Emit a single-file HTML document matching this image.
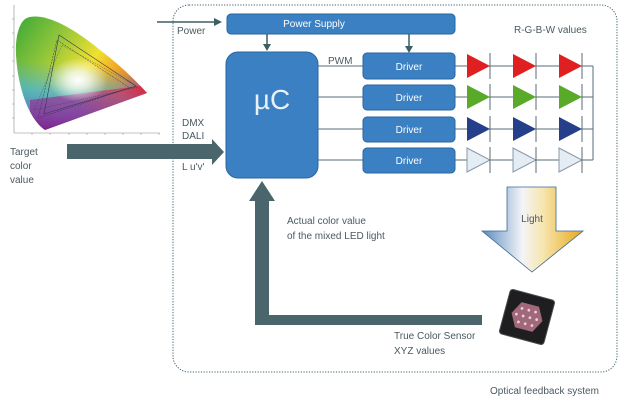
<!DOCTYPE html>
<html><head><meta charset="utf-8"><style>
body{margin:0;background:#fff;}
svg text{font-family:"Liberation Sans",sans-serif;}
</style></head><body>
<svg width="632" height="400" viewBox="0 0 632 400" xmlns="http://www.w3.org/2000/svg">
<defs>
<linearGradient id="cg1" x1="0" y1="0" x2="1" y2="0.6">
<stop offset="0" stop-color="#3aa838"/><stop offset="0.3" stop-color="#8cc43a"/><stop offset="0.6" stop-color="#f0e030"/><stop offset="0.85" stop-color="#f08a20"/><stop offset="1" stop-color="#e8202a"/>
</linearGradient>
<linearGradient id="cg2" x1="0.2" y1="0" x2="0.1" y2="1">
<stop offset="0.4" stop-color="#40b0e0" stop-opacity="0"/><stop offset="0.65" stop-color="#40b0e0" stop-opacity="0.75"/><stop offset="0.85" stop-color="#4a70c8" stop-opacity="0.9"/><stop offset="1" stop-color="#40208a"/>
</linearGradient>
<radialGradient id="cg3" cx="0.5" cy="0.5" r="0.5">
<stop offset="0" stop-color="#fff"/><stop offset="0.4" stop-color="#fff" stop-opacity="0.7"/><stop offset="1" stop-color="#fff" stop-opacity="0"/>
</radialGradient>
<linearGradient id="cg4" x1="0.3" y1="1" x2="1" y2="0.5">
<stop offset="0.3" stop-color="#a02090" stop-opacity="0.6"/><stop offset="0.7" stop-color="#e02050" stop-opacity="0.6"/><stop offset="1" stop-color="#e8202a" stop-opacity="0.9"/>
</linearGradient>
<clipPath id="lowclip"><polygon points="30,100 147,85 160,140 30,140"/></clipPath>
<linearGradient id="lg" x1="0" y1="0" x2="1" y2="0">
<stop offset="0" stop-color="#5a8cc0"/><stop offset="0.4" stop-color="#f4f4f8"/><stop offset="0.6" stop-color="#f6e6b0"/><stop offset="1" stop-color="#e8a818"/>
</linearGradient>
</defs>

<!-- CIE chart -->
<g>
<line x1="14" y1="5" x2="14" y2="133" stroke="#888" stroke-width="0.6"/>
<line x1="14" y1="133" x2="160" y2="133" stroke="#888" stroke-width="0.6"/>
<g stroke="#888" stroke-width="0.5">
<line x1="12" y1="19" x2="14" y2="19"/><line x1="12" y1="33" x2="14" y2="33"/><line x1="12" y1="47" x2="14" y2="47"/><line x1="12" y1="61" x2="14" y2="61"/><line x1="12" y1="76" x2="14" y2="76"/><line x1="12" y1="90" x2="14" y2="90"/><line x1="12" y1="104" x2="14" y2="104"/><line x1="12" y1="118" x2="14" y2="118"/>
<line x1="32" y1="133" x2="32" y2="135"/><line x1="50" y1="133" x2="50" y2="135"/><line x1="69" y1="133" x2="69" y2="135"/><line x1="87" y1="133" x2="87" y2="135"/><line x1="105" y1="133" x2="105" y2="135"/><line x1="123" y1="133" x2="123" y2="135"/><line x1="141" y1="133" x2="141" y2="135"/><line x1="159" y1="133" x2="159" y2="135"/>
</g>
<path d="M45,130 C30,120 18,90 16,55 C15,35 20,18 30,17 C45,14 70,25 100,50 C120,65 135,80 147,93 Z" fill="url(#cg1)"/>
<path d="M45,130 C30,120 18,90 16,55 C15,35 20,18 30,17 C45,14 70,25 100,50 C120,65 135,80 147,93 Z" fill="url(#cg2)"/>
<path d="M45,130 C30,120 18,90 16,55 C15,35 20,18 30,17 C45,14 70,25 100,50 C120,65 135,80 147,93 Z" fill="url(#cg4)" clip-path="url(#lowclip)"/>
<ellipse cx="78" cy="80" rx="30" ry="22" fill="url(#cg3)"/>
<polygon points="59,35 136,86 44,114" fill="none" stroke="#335" stroke-width="0.6"/>
<polygon points="57,40 130,88 38,118 " fill="none" stroke="#335" stroke-width="0.5" stroke-dasharray="2,1"/>
<polygon points="62,45 138,87 34,110" fill="none" stroke="#335" stroke-width="0.4" stroke-dasharray="1,1"/>
</g>

<!-- dotted border -->
<rect x="173" y="5" width="444" height="367" rx="16" fill="none" stroke="#3f6070" stroke-width="1" stroke-dasharray="1.2,1.5"/>

<!-- Power -->
<line x1="157" y1="22" x2="216" y2="22" stroke="#3c5e66" stroke-width="1.5"/>
<polygon points="214,18 222,22 214,26" fill="#3c5e66"/>
<text x="177" y="34" font-size="10" fill="#4a5a60">Power</text>
<rect x="227" y="14" width="228" height="20" rx="4" fill="#3b80c2" stroke="#2a66a0"/>
<text x="314" y="27" font-size="10" fill="#fff" text-anchor="middle">Power Supply</text>
<line x1="267" y1="34" x2="267" y2="46" stroke="#3c5e66" stroke-width="1.5"/>
<polygon points="263,44 267,51 271,44" fill="#3c5e66"/>
<line x1="409" y1="34" x2="409" y2="48" stroke="#3c5e66" stroke-width="1.5"/>
<polygon points="405,46 409,53 413,46" fill="#3c5e66"/>

<!-- uC -->
<rect x="226" y="52" width="92" height="126" rx="12" fill="#3b80c2" stroke="#2a66a0"/>
<text x="272" y="109" font-size="28" fill="#e8f0f8" text-anchor="middle">µC</text>

<text x="328" y="64" font-size="10" fill="#4a5a60">PWM</text>
<text x="514" y="33" font-size="10" fill="#4a5a60">R-G-B-W values</text>

<g stroke="#5a6e74" stroke-width="1">
<line x1="318" y1="66" x2="593" y2="66"/>
<line x1="318" y1="97" x2="593" y2="97"/>
<line x1="318" y1="129" x2="593" y2="129"/>
<line x1="318" y1="160" x2="593" y2="160"/>
<line x1="593" y1="66" x2="593" y2="160"/>
</g>
<g fill="#3b80c2" stroke="#2a66a0">
<rect x="363" y="53" width="92" height="26" rx="4"/>
<rect x="363" y="85" width="92" height="25" rx="4"/>
<rect x="363" y="117" width="92" height="25" rx="4"/>
<rect x="363" y="148" width="92" height="25" rx="4"/>
</g>
<g font-size="10" fill="#fff" text-anchor="middle">
<text x="409" y="70">Driver</text><text x="409" y="101">Driver</text><text x="409" y="133">Driver</text><text x="409" y="164">Driver</text>
</g>

<!-- LEDs -->
<g stroke="#5a6e74" stroke-width="1">
<polygon points="467,54 490,66 467,78" fill="#e02020" stroke="none"/>
<polygon points="513,54 536,66 513,78" fill="#e02020" stroke="none"/>
<polygon points="559,54 582,66 559,78" fill="#e02020" stroke="none"/>
<polygon points="467,85 490,97 467,109" fill="#5aaa2a" stroke="none"/>
<polygon points="513,85 536,97 513,109" fill="#5aaa2a" stroke="none"/>
<polygon points="559,85 582,97 559,109" fill="#5aaa2a" stroke="none"/>
<polygon points="467,117 490,129 467,141" fill="#263f8a" stroke="none"/>
<polygon points="513,117 536,129 513,141" fill="#263f8a" stroke="none"/>
<polygon points="559,117 582,129 559,141" fill="#263f8a" stroke="none"/>
<polygon points="467,148 490,160 467,172" fill="#e4ecf4" stroke="#8898a8"/>
<polygon points="513,148 536,160 513,172" fill="#e4ecf4" stroke="#8898a8"/>
<polygon points="559,148 582,160 559,172" fill="#e4ecf4" stroke="#8898a8"/>
<line x1="490" y1="53" x2="490" y2="79"/><line x1="536" y1="53" x2="536" y2="79"/><line x1="582" y1="53" x2="582" y2="79"/>
<line x1="490" y1="84" x2="490" y2="110"/><line x1="536" y1="84" x2="536" y2="110"/><line x1="582" y1="84" x2="582" y2="110"/>
<line x1="490" y1="116" x2="490" y2="142"/><line x1="536" y1="116" x2="536" y2="142"/><line x1="582" y1="116" x2="582" y2="142"/>
<line x1="490" y1="147" x2="490" y2="173"/><line x1="536" y1="147" x2="536" y2="173"/><line x1="582" y1="147" x2="582" y2="173"/>
</g>

<!-- big input arrow -->
<polygon points="67,144 212,144 212,139 224,152 212,165 212,159 67,159" fill="#4a666c"/>
<text x="182" y="126" font-size="10" fill="#4a5a60">DMX</text>
<text x="182" y="139" font-size="10" fill="#4a5a60">DALI</text>
<text x="182" y="170" font-size="10" fill="#4a5a60">L u'v'</text>
<g font-size="10" fill="#4a5a60">
<text x="10" y="155">Target</text><text x="10" y="169">color</text><text x="10" y="183">value</text>
</g>

<!-- feedback arrow -->
<polygon points="255,201 249,201 262,181 275,201 269,201 269,315 482,315 482,325 255,325" fill="#4a666c"/>
<text x="287" y="224" font-size="10" fill="#4a5a60">Actual color value</text>
<text x="287" y="239" font-size="10" fill="#4a5a60">of the mixed LED light</text>
<text x="394" y="339" font-size="10" fill="#4a5a60">True Color Sensor</text>
<text x="394" y="354" font-size="10" fill="#4a5a60">XYZ values</text>
<text x="490" y="394" font-size="10" fill="#4a5a60">Optical feedback system</text>

<!-- light arrow -->
<polygon points="507,187 556,187 556,231 583,231 532,272 482,231 507,231" fill="url(#lg)" stroke="#3a6a90" stroke-width="0.8"/>
<text x="532" y="222" font-size="10" fill="#4a5a60" text-anchor="middle">Light</text>

<!-- sensor -->
<g transform="rotate(15 527 317)">
<rect x="504" y="294" width="46" height="46" rx="3" fill="#1e1e20"/>
<rect x="504" y="294" width="46" height="46" rx="3" fill="none" stroke="#4a4a4a" stroke-width="1"/>
<polygon points="518,304 536,304 543,317 536,330 518,330 511,317" fill="#a06878"/>
<g fill="#e8d0e0">
<circle cx="520" cy="310" r="1.4"/><circle cx="527" cy="310" r="1.4"/><circle cx="534" cy="310" r="1.4"/>
<circle cx="516" cy="317" r="1.4"/><circle cx="523" cy="317" r="1.4"/><circle cx="530" cy="317" r="1.4"/><circle cx="537" cy="317" r="1.4"/>
<circle cx="520" cy="324" r="1.4"/><circle cx="527" cy="324" r="1.4"/><circle cx="534" cy="324" r="1.4"/>
</g>
</g>
</svg>
</body></html>
